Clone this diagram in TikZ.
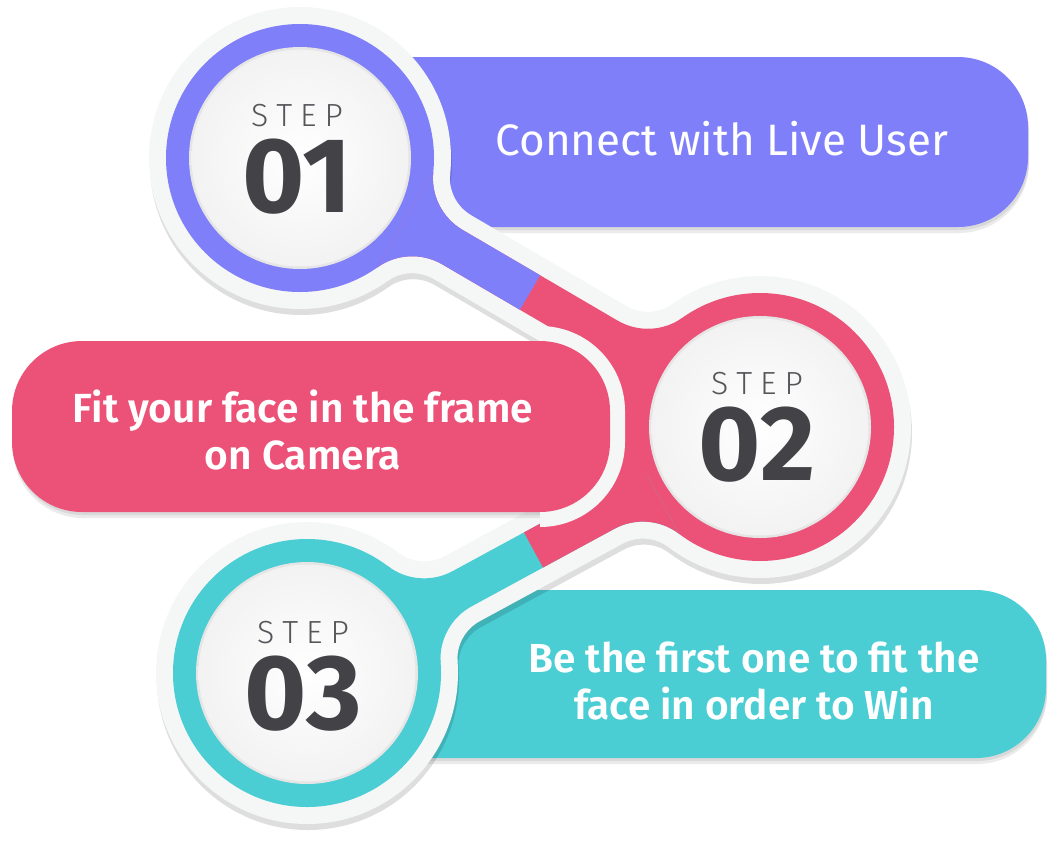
\documentclass[tikz,border=0pt]{standalone}
\usepackage{graphicx}
\usepackage{fontspec}
\setmainfont{Fira Sans}
\newfontfamily\stepfont{Fira Sans Light}
\newfontfamily\barfont{Fira Sans SemiBold}
\usetikzlibrary{calc}

\definecolor{stepblue}{HTML}{7F7FFA}
\definecolor{stepred}{HTML}{EC5277}
\definecolor{stepcyan}{HTML}{4ACDD3}
\definecolor{halo}{HTML}{F5F6F6}
\definecolor{digit}{HTML}{434247}
\definecolor{steplabel}{HTML}{55555A}

% neck between two rings: length, fillet radius, start point on ring, half width
\newcommand{\neckpath}[5]{(#3,#4) arc[start angle=204.4,end angle=270,radius=#2]
  -- ({#1-176.7},#5) arc[start angle=270,end angle=335.6,radius=#2]
  -- ({#1-#3},-#4) arc[start angle=24.4,end angle=90,radius=#2]
  -- (176.7,-#5) arc[start angle=90,end angle=155.6,radius=#2] -- cycle}

% the three rings with their necks, filled in the current colour
\newcommand{\chainshape}[5]{%
  \fill (300,158) circle[radius=#1] (760,427) circle[radius=#1] (307,673) circle[radius=#1];
  \foreach \cx/\cy/\ang/\len in {300/158/30.32/532.9, 760/427/151.5/515.5}
    \fill[shift={(\cx,\cy)}, rotate=\ang] \neckpath{\len}{#2}{#3}{#4}{#5};
}

% STEP over the step number
\newcommand{\steplabel}[1]{{\color{steplabel}\stepfont\fontsize{24}{24}\selectfont
  S\hspace{6pt}T\hspace{6pt}E\hspace{6pt}P}\\[8pt]
  {\color{digit}\bfseries\fontsize{80}{80}\selectfont #1}}

\begin{document}
\begin{tikzpicture}[
    x=0.75pt, y=0.75pt, yscale=-1,
    bar/.style={rounded corners=52.5pt},
    barshadow/.style={fill=black, opacity=.08, rounded corners=52.5pt},
    stepmark/.style={align=center, anchor=north, inner sep=0pt,
        font=\fontsize{24}{24}\selectfont},
    bartext/.style={text=white, align=center}
]
    \useasboundingbox (0,0) rectangle (1059,846);

    % Bars behind the chain
    \foreach \s in {3,6} {
        \fill[barshadow, shift={(1,\s)}] (300,57) rectangle (1028,227);
        \fill[barshadow, shift={(1,\s)}] (307,590) rectangle (1046,758);
    }
    \fill[stepblue, bar] (300,57) rectangle (1028,227);
    \fill[stepcyan, bar] (307,590) rectangle (1046,758);

    % Chain shadow and white rim
    \begin{scope}[transparency group, opacity=.13, shift={(1,6)}, color=black]
        \chainshape{151}{43}{137.5}{62.2}{37}
    \end{scope}
    \begin{scope}[color=halo]
        \chainshape{151}{43}{137.5}{62.2}{37}
    \end{scope}

    % Coloured rings
    \fill[stepblue] (300,158) circle[radius=134];
    \fill[stepred] (760,427) circle[radius=134];
    \fill[stepcyan] (307,673) circle[radius=134];

    % Necks, two colours each
    \begin{scope}[shift={(300,158)}, rotate=30.32]
        \fill[stepred] \neckpath{532.9}{60}{122.05}{55.2}{20};
        \clip (0,-100) rectangle (266.45,100);
        \fill[stepblue] \neckpath{532.9}{60}{122.05}{55.2}{20};
    \end{scope}
    \begin{scope}[shift={(760,427)}, rotate=151.5]
        \fill[stepcyan] \neckpath{515.5}{60}{122.05}{55.2}{20};
        \clip (0,-100) rectangle (257.75,100);
        \fill[stepred] \neckpath{515.5}{60}{122.05}{55.2}{20};
    \end{scope}
    \fill[stepred] (760,427) -- (579,344) -- (540,411) -- (540,442) -- (574,505) -- cycle;

    % Middle bar on top
    \begin{scope}
        \clip (0,300) rectangle (560,560);
        \foreach \s in {3,6}
            \fill[barshadow, shift={(1,\s)}] (12,341) rectangle (610,512);
    \end{scope}
    \begin{scope}
        \clip (540,300) rectangle (700,560);
        \draw[halo, line width=22.5pt, bar] (12,341) rectangle (610,512);
    \end{scope}
    \fill[stepred, bar] (12,341) rectangle (610,512);

    % Inner discs
    \foreach \cx/\cy in {300/158, 760/427, 307/673} {
        \fill[gray!20] (\cx,\cy) circle[radius=111];
        \shade[inner color=white, outer color=gray!10] (\cx,\cy) circle[radius=108.5];
    }

    % Step marks
    \node[stepmark] (step1) at (297,104) {\steplabel{01}};
    \node[stepmark] (step2) at (757,372) {\steplabel{02}};
    \node[stepmark] (step3) at (303,621) {\steplabel{03}};

    % Bar texts
    \node[bartext, anchor=base, font=\fontsize{33}{33}\selectfont] (text1) at (722,155) {Connect with Live User};
    \node[bartext, font=\barfont\fontsize{30.5}{35.25}\selectfont] (text2) at (303,430) {Fit your face in the frame\\on Camera};
    \node[bartext, font=\barfont\fontsize{30.4}{35.25}\selectfont] (text3) at (754,681) {Be the first one to fit the\\face in order to Win};

\end{tikzpicture}
\end{document}
